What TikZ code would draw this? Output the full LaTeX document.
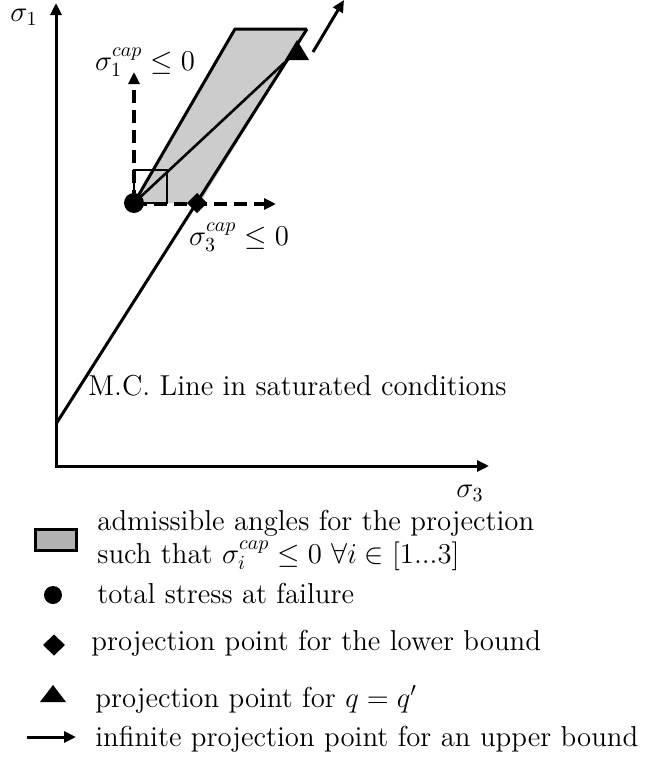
\documentclass[tikz,border=0pt]{standalone}
\usetikzlibrary{arrows.meta}
\begin{document}
\begin{tikzpicture}[x=0.5pt,y=-0.5pt,
  every node/.style={font=\fontsize{14.4}{17}\selectfont, inner sep=0pt},
  tip/.style={-{Triangle[length=6pt,width=5.5pt]}},
  axisline/.style={line width=1.5pt, tip},
  thk/.style={line width=1.5pt},
  med/.style={line width=1.3pt},
  dasharrow/.style={line width=1.6pt, dash pattern=on 6.5pt off 3.5pt, tip},
  plotfill/.style={fill=black!20},
  legfill/.style={fill=black!30, draw=black, line width=1.5pt},
  lab/.style={anchor=base west}
]
\useasboundingbox (0,0) rectangle (646,760);

% ---- coordinates
\coordinate (O) at (56,466);
\coordinate (ytop) at (56,3);
\coordinate (xend) at (489,466);
\coordinate (mcA) at (56,424);
\coordinate (mcB) at (307,29);
\coordinate (P) at (134,203);
\coordinate (Pb) at (200,203);
\coordinate (TL) at (235,29);
\coordinate (Q) at (197,203);
\coordinate (T) at (297,51);
\coordinate (vtip) at (134,72);
\coordinate (htip) at (276,204);
\coordinate (uA) at (313,52);
\coordinate (uB) at (344,0);

% ---- admissible region
\fill[plotfill] (P) -- (Pb) -- (mcB) -- (TL) -- cycle;
\draw[thk] (P) -- (TL) -- (mcB);

% ---- axes
\draw[axisline] (O) -- (ytop);
\draw[axisline] ([xshift=-0.75pt]O) -- (xend);
\node (s1) at (24,17) {$\sigma_1$};
\node (s3) at (470,493) {$\sigma_3$};

% ---- M.C. line
\draw[thk] (mcA) -- (mcB);
\node[lab] (mc) at (88,395) {M.C. Line in saturated conditions};

% ---- small square and diagonal
\draw[med] (134,170) rectangle (167,203);
\draw[med] (P) -- (T);

% ---- dashed arrows
\draw[dasharrow] (P) -- (vtip);
\draw[dasharrow] ([yshift=-0.5pt]P) -- (htip);
\node (c1) at (145,62) {$\sigma_1^{cap}\leq 0$};
\node (c3) at (239,237) {$\sigma_3^{cap}\leq 0$};

% ---- markers
\fill (P) circle[radius=5pt];
\fill (187,203) -- (197,193) -- (207,203) -- (197,213) -- cycle;
\fill (297,40) -- (309,60) -- (285,60) -- cycle;

% ---- upper bound arrow
\draw[line width=1.5pt, tip] (uA) -- (uB);

% ---- legend
\draw[legfill] (35,529) rectangle (76,550);
\node[lab] (l1a) at (97,530) {admissible angles for the projection};
\node[lab] (l1b) at (97,563) {such that $\sigma_i^{cap}\leq 0\ \forall i \in [1...3]$};

\fill (53,595) circle[radius=4.5pt];
\node[lab] (l2) at (97,603) {total stress at failure};

\fill (43,645) -- (54,634.5) -- (65,645) -- (54,655.5) -- cycle;
\node[lab] (l3) at (91,650) {projection point for the lower bound};

\fill (53,685) -- (66,702) -- (40,702) -- cycle;
\node[lab] (l4) at (95,707) {projection point for $q=q'$};

\coordinate (la) at (27,737);
\coordinate (lb) at (76,737);
\draw[line width=1.5pt, tip] (la) -- (lb);
\node[lab] (l5) at (95,746) {infinite projection point for an upper bound};
\end{tikzpicture}
\end{document}
